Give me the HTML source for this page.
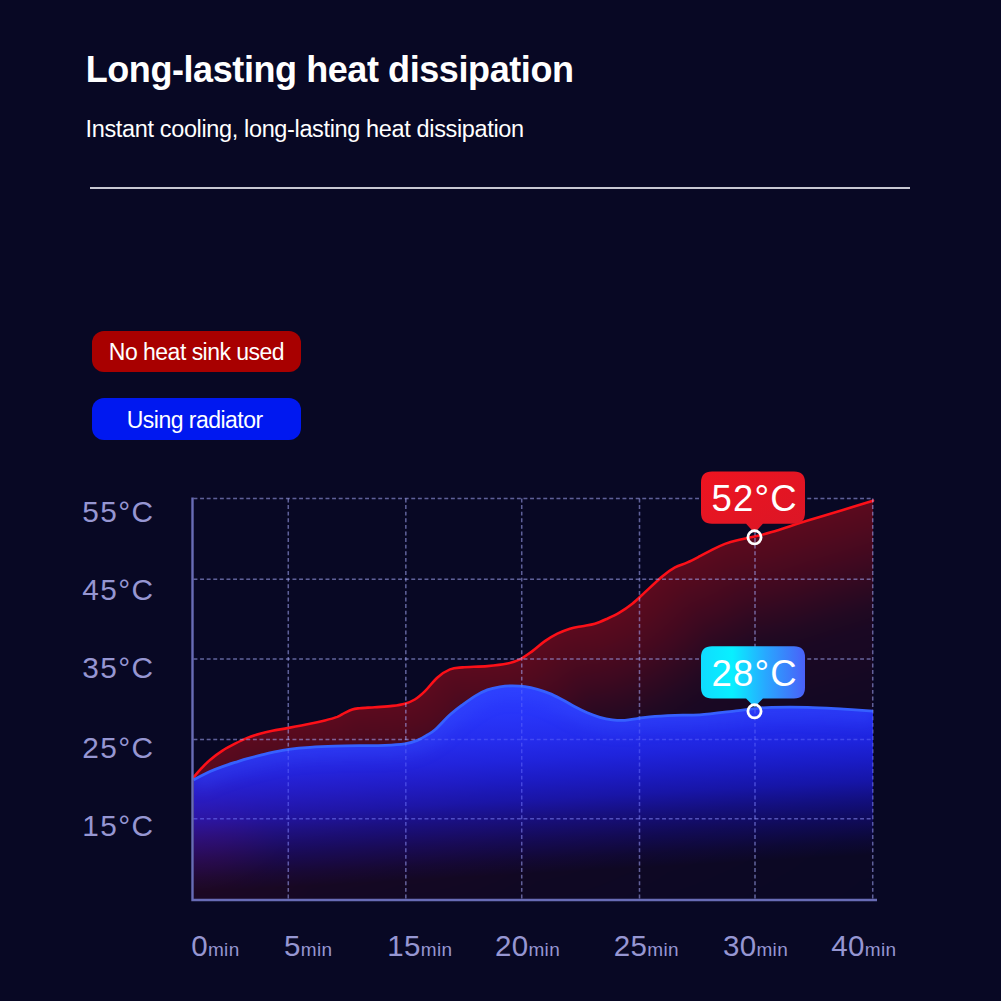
<!DOCTYPE html>
<html lang="en">
<head>
<meta charset="utf-8">
<title>Long-lasting heat dissipation</title>
<style>
html,body{margin:0;padding:0;}
body{width:1001px;height:1001px;overflow:hidden;background:#080824;font-family:"Liberation Sans",Arial,sans-serif;position:relative;}
.t{position:absolute;white-space:nowrap;line-height:1;color:#fff;}
#title{left:85.7px;top:52px;font-size:36px;font-weight:bold;letter-spacing:-0.42px;}
#sub{left:85.6px;top:117.9px;font-size:23.5px;letter-spacing:-0.36px;}
#rule{position:absolute;left:90px;top:187px;width:820px;height:2px;background:#c8c8d2;}
.pill{position:absolute;left:92.3px;width:208.4px;height:42px;border-radius:12px;color:#fff;font-size:23px;line-height:44px;text-align:center;letter-spacing:-0.52px;}
#p1{top:330.5px;height:41.8px;line-height:43px;background:#a80000;}
#p2{top:397.7px;height:42.1px;line-height:45px;text-indent:-3.6px;background:#0018f0;}
svg{position:absolute;left:0;top:0;}
</style>
</head>
<body>
<div class="t" id="title">Long-lasting heat dissipation</div>
<div class="t" id="sub">Instant cooling, long-lasting heat dissipation</div>
<div id="rule"></div>
<div class="pill" id="p1">No heat sink used</div>
<div class="pill" id="p2">Using radiator</div>
<svg id="chart" width="1001" height="1001" viewBox="0 0 1001 1001">
<defs>
<linearGradient id="gb" gradientUnits="userSpaceOnUse" x1="520.0" y1="686" x2="531.8" y2="899.7">
<stop offset="0.000" stop-color="rgb(42,58,255)" stop-opacity="1.000"/>
<stop offset="0.136" stop-color="rgb(40,54,253)" stop-opacity="0.980"/>
<stop offset="0.248" stop-color="rgb(36,47,250)" stop-opacity="0.940"/>
<stop offset="0.346" stop-color="rgb(32,40,248)" stop-opacity="0.870"/>
<stop offset="0.439" stop-color="rgb(29,34,247)" stop-opacity="0.760"/>
<stop offset="0.533" stop-color="rgb(27,29,246)" stop-opacity="0.625"/>
<stop offset="0.617" stop-color="rgb(26,25,246)" stop-opacity="0.440"/>
<stop offset="0.720" stop-color="rgb(25,19,246)" stop-opacity="0.240"/>
<stop offset="0.813" stop-color="rgb(24,14,246)" stop-opacity="0.080"/>
<stop offset="0.879" stop-color="rgb(24,10,246)" stop-opacity="0.000"/>
</linearGradient>
<filter id="fb" color-interpolation-filters="sRGB" filterUnits="userSpaceOnUse" x="100" y="400" width="900" height="600"><feGaussianBlur stdDeviation="3"/></filter>
<filter id="fb2" color-interpolation-filters="sRGB" filterUnits="userSpaceOnUse" x="100" y="600" width="900" height="400"><feGaussianBlur stdDeviation="7"/></filter>
<linearGradient id="gbadge" x1="0" y1="0" x2="1" y2="0">
<stop offset="0" stop-color="#10dcff"/>
<stop offset="0.3" stop-color="#08f0ff"/>
<stop offset="0.62" stop-color="#28a8ff"/>
<stop offset="1" stop-color="#4a60f8"/>
</linearGradient>
<linearGradient id="rbadge" x1="0" y1="0" x2="1" y2="1">
<stop offset="0" stop-color="#ee1420"/>
<stop offset="1" stop-color="#da1626"/>
</linearGradient>
</defs>
<clipPath id="cr"><path d="M193.5 777.4 C194.6 776.1 197.2 772.8 200.0 769.9 C202.8 767.0 206.2 763.1 210.0 759.9 C213.8 756.7 218.3 753.3 222.5 750.6 C226.7 747.9 230.8 745.8 235.0 743.7 C239.2 741.6 243.2 739.6 247.4 737.9 C251.6 736.2 255.7 734.9 259.9 733.7 C264.1 732.5 267.6 731.7 272.4 730.7 C277.2 729.7 282.4 729.1 288.6 727.9 C294.9 726.7 303.8 725.0 309.9 723.7 C315.9 722.5 320.3 721.5 324.9 720.4 C329.5 719.3 334.0 718.1 337.3 716.9 C340.6 715.6 342.3 714.1 344.8 712.9 C347.3 711.6 349.8 710.2 352.3 709.4 C354.8 708.6 356.1 708.6 359.8 708.2 C363.6 707.8 369.4 707.6 374.8 707.2 C380.2 706.8 387.3 706.5 392.3 705.9 C397.3 705.3 401.1 704.8 404.8 703.7 C408.6 702.6 411.4 701.6 414.8 699.5 C418.2 697.4 421.2 694.8 425.0 691.1 C428.8 687.4 433.3 681.0 437.5 677.4 C441.7 673.8 445.8 671.1 450.0 669.4 C454.2 667.7 456.3 667.9 462.5 667.4 C468.7 666.9 479.9 666.7 487.4 666.1 C494.9 665.5 502.0 664.7 507.4 663.6 C512.8 662.5 515.7 661.5 519.9 659.4 C524.1 657.3 528.2 654.1 532.4 651.1 C536.6 648.1 540.7 644.0 544.9 641.1 C549.1 638.2 553.2 635.8 557.4 633.7 C561.6 631.6 565.8 630.0 569.9 628.7 C574.0 627.5 578.1 627.0 582.3 626.2 C586.4 625.4 590.6 625.0 594.8 623.7 C599.0 622.5 603.1 620.6 607.3 618.7 C611.5 616.8 615.6 614.9 619.8 612.4 C624.0 609.9 628.1 607.0 632.3 603.7 C636.5 600.4 639.8 597.0 644.8 592.4 C649.8 587.8 657.5 580.4 662.5 576.2 C667.5 572.0 670.8 569.7 675.0 567.4 C679.2 565.1 683.3 564.3 687.5 562.4 C691.7 560.5 695.9 558.3 700.0 556.2 C704.1 554.1 708.2 551.7 712.4 549.6 C716.6 547.5 720.8 545.5 725.0 543.9 C729.2 542.3 732.5 541.4 737.4 540.2 C742.3 539.0 748.8 537.9 754.5 536.5 C760.2 535.1 762.8 534.8 771.7 532.1 C780.6 529.5 795.7 524.3 807.7 520.6 C819.7 516.9 832.8 513.1 843.7 509.8 C854.6 506.5 868.1 502.2 873.0 500.7 L873 900 L193.5 900 Z"/></clipPath>
<path id="rl" d="M193.5 777.4 C194.6 776.1 197.2 772.8 200.0 769.9 C202.8 767.0 206.2 763.1 210.0 759.9 C213.8 756.7 218.3 753.3 222.5 750.6 C226.7 747.9 230.8 745.8 235.0 743.7 C239.2 741.6 243.2 739.6 247.4 737.9 C251.6 736.2 255.7 734.9 259.9 733.7 C264.1 732.5 267.6 731.7 272.4 730.7 C277.2 729.7 282.4 729.1 288.6 727.9 C294.9 726.7 303.8 725.0 309.9 723.7 C315.9 722.5 320.3 721.5 324.9 720.4 C329.5 719.3 334.0 718.1 337.3 716.9 C340.6 715.6 342.3 714.1 344.8 712.9 C347.3 711.6 349.8 710.2 352.3 709.4 C354.8 708.6 356.1 708.6 359.8 708.2 C363.6 707.8 369.4 707.6 374.8 707.2 C380.2 706.8 387.3 706.5 392.3 705.9 C397.3 705.3 401.1 704.8 404.8 703.7 C408.6 702.6 411.4 701.6 414.8 699.5 C418.2 697.4 421.2 694.8 425.0 691.1 C428.8 687.4 433.3 681.0 437.5 677.4 C441.7 673.8 445.8 671.1 450.0 669.4 C454.2 667.7 456.3 667.9 462.5 667.4 C468.7 666.9 479.9 666.7 487.4 666.1 C494.9 665.5 502.0 664.7 507.4 663.6 C512.8 662.5 515.7 661.5 519.9 659.4 C524.1 657.3 528.2 654.1 532.4 651.1 C536.6 648.1 540.7 644.0 544.9 641.1 C549.1 638.2 553.2 635.8 557.4 633.7 C561.6 631.6 565.8 630.0 569.9 628.7 C574.0 627.5 578.1 627.0 582.3 626.2 C586.4 625.4 590.6 625.0 594.8 623.7 C599.0 622.5 603.1 620.6 607.3 618.7 C611.5 616.8 615.6 614.9 619.8 612.4 C624.0 609.9 628.1 607.0 632.3 603.7 C636.5 600.4 639.8 597.0 644.8 592.4 C649.8 587.8 657.5 580.4 662.5 576.2 C667.5 572.0 670.8 569.7 675.0 567.4 C679.2 565.1 683.3 564.3 687.5 562.4 C691.7 560.5 695.9 558.3 700.0 556.2 C704.1 554.1 708.2 551.7 712.4 549.6 C716.6 547.5 720.8 545.5 725.0 543.9 C729.2 542.3 732.5 541.4 737.4 540.2 C742.3 539.0 748.8 537.9 754.5 536.5 C760.2 535.1 762.8 534.8 771.7 532.1 C780.6 529.5 795.7 524.3 807.7 520.6 C819.7 516.9 832.8 513.1 843.7 509.8 C854.6 506.5 868.1 502.2 873.0 500.7" fill="none"/>
<g clip-path="url(#cr)"><g filter="url(#fb)" stroke-linecap="round" stroke-linejoin="round">
<rect x="150" y="450" width="780" height="500" fill="rgb(9,8,36)"/>
<use href="#rl" stroke-width="880" stroke="rgb(9,8,36)"/>
<use href="#rl" stroke-width="860" stroke="rgb(9,8,36)"/>
<use href="#rl" stroke-width="840" stroke="rgb(9,8,36)"/>
<use href="#rl" stroke-width="820" stroke="rgb(10,8,36)"/>
<use href="#rl" stroke-width="800" stroke="rgb(10,8,36)"/>
<use href="#rl" stroke-width="780" stroke="rgb(10,8,36)"/>
<use href="#rl" stroke-width="760" stroke="rgb(10,8,36)"/>
<use href="#rl" stroke-width="740" stroke="rgb(10,8,36)"/>
<use href="#rl" stroke-width="720" stroke="rgb(11,8,36)"/>
<use href="#rl" stroke-width="700" stroke="rgb(11,8,36)"/>
<use href="#rl" stroke-width="680" stroke="rgb(11,8,36)"/>
<use href="#rl" stroke-width="660" stroke="rgb(11,8,36)"/>
<use href="#rl" stroke-width="640" stroke="rgb(11,8,36)"/>
<use href="#rl" stroke-width="620" stroke="rgb(12,8,36)"/>
<use href="#rl" stroke-width="600" stroke="rgb(12,8,36)"/>
<use href="#rl" stroke-width="580" stroke="rgb(12,8,36)"/>
<use href="#rl" stroke-width="560" stroke="rgb(13,8,36)"/>
<use href="#rl" stroke-width="540" stroke="rgb(13,8,36)"/>
<use href="#rl" stroke-width="520" stroke="rgb(14,8,36)"/>
<use href="#rl" stroke-width="500" stroke="rgb(14,8,36)"/>
<use href="#rl" stroke-width="480" stroke="rgb(15,8,35)"/>
<use href="#rl" stroke-width="460" stroke="rgb(15,8,35)"/>
<use href="#rl" stroke-width="440" stroke="rgb(16,8,35)"/>
<use href="#rl" stroke-width="420" stroke="rgb(17,8,35)"/>
<use href="#rl" stroke-width="400" stroke="rgb(18,8,35)"/>
<use href="#rl" stroke-width="380" stroke="rgb(19,8,35)"/>
<use href="#rl" stroke-width="360" stroke="rgb(20,8,35)"/>
<use href="#rl" stroke-width="340" stroke="rgb(21,8,35)"/>
<use href="#rl" stroke-width="320" stroke="rgb(23,8,35)"/>
<use href="#rl" stroke-width="300" stroke="rgb(24,8,35)"/>
<use href="#rl" stroke-width="280" stroke="rgb(25,8,35)"/>
<use href="#rl" stroke-width="264" stroke="rgb(25,8,35)"/>
<use href="#rl" stroke-width="256" stroke="rgb(26,8,35)"/>
<use href="#rl" stroke-width="248" stroke="rgb(26,8,35)"/>
<use href="#rl" stroke-width="240" stroke="rgb(27,8,35)"/>
<use href="#rl" stroke-width="232" stroke="rgb(29,8,34)"/>
<use href="#rl" stroke-width="224" stroke="rgb(30,9,34)"/>
<use href="#rl" stroke-width="216" stroke="rgb(32,9,34)"/>
<use href="#rl" stroke-width="208" stroke="rgb(33,9,34)"/>
<use href="#rl" stroke-width="200" stroke="rgb(36,9,34)"/>
<use href="#rl" stroke-width="192" stroke="rgb(38,9,34)"/>
<use href="#rl" stroke-width="184" stroke="rgb(41,9,34)"/>
<use href="#rl" stroke-width="176" stroke="rgb(43,9,33)"/>
<use href="#rl" stroke-width="168" stroke="rgb(46,9,33)"/>
<use href="#rl" stroke-width="160" stroke="rgb(48,9,33)"/>
<use href="#rl" stroke-width="152" stroke="rgb(51,9,33)"/>
<use href="#rl" stroke-width="144" stroke="rgb(54,9,33)"/>
<use href="#rl" stroke-width="136" stroke="rgb(56,9,32)"/>
<use href="#rl" stroke-width="128" stroke="rgb(59,9,32)"/>
<use href="#rl" stroke-width="120" stroke="rgb(62,9,32)"/>
<use href="#rl" stroke-width="112" stroke="rgb(64,9,32)"/>
<use href="#rl" stroke-width="104" stroke="rgb(66,9,32)"/>
<use href="#rl" stroke-width="96" stroke="rgb(69,9,31)"/>
<use href="#rl" stroke-width="88" stroke="rgb(71,9,31)"/>
<use href="#rl" stroke-width="80" stroke="rgb(73,10,31)"/>
<use href="#rl" stroke-width="72" stroke="rgb(75,10,31)"/>
<use href="#rl" stroke-width="64" stroke="rgb(77,10,31)"/>
<use href="#rl" stroke-width="56" stroke="rgb(79,10,31)"/>
<use href="#rl" stroke-width="48" stroke="rgb(82,10,30)"/>
<use href="#rl" stroke-width="40" stroke="rgb(83,10,30)"/>
<use href="#rl" stroke-width="32" stroke="rgb(85,10,30)"/>
<use href="#rl" stroke-width="24" stroke="rgb(87,10,30)"/>
<use href="#rl" stroke-width="16" stroke="rgb(89,10,30)"/>
<use href="#rl" stroke-width="8" stroke="rgb(91,10,30)"/>
</g></g>
<path d="M193.5 777.4 C194.6 776.1 197.2 772.8 200.0 769.9 C202.8 767.0 206.2 763.1 210.0 759.9 C213.8 756.7 218.3 753.3 222.5 750.6 C226.7 747.9 230.8 745.8 235.0 743.7 C239.2 741.6 243.2 739.6 247.4 737.9 C251.6 736.2 255.7 734.9 259.9 733.7 C264.1 732.5 267.6 731.7 272.4 730.7 C277.2 729.7 282.4 729.1 288.6 727.9 C294.9 726.7 303.8 725.0 309.9 723.7 C315.9 722.5 320.3 721.5 324.9 720.4 C329.5 719.3 334.0 718.1 337.3 716.9 C340.6 715.6 342.3 714.1 344.8 712.9 C347.3 711.6 349.8 710.2 352.3 709.4 C354.8 708.6 356.1 708.6 359.8 708.2 C363.6 707.8 369.4 707.6 374.8 707.2 C380.2 706.8 387.3 706.5 392.3 705.9 C397.3 705.3 401.1 704.8 404.8 703.7 C408.6 702.6 411.4 701.6 414.8 699.5 C418.2 697.4 421.2 694.8 425.0 691.1 C428.8 687.4 433.3 681.0 437.5 677.4 C441.7 673.8 445.8 671.1 450.0 669.4 C454.2 667.7 456.3 667.9 462.5 667.4 C468.7 666.9 479.9 666.7 487.4 666.1 C494.9 665.5 502.0 664.7 507.4 663.6 C512.8 662.5 515.7 661.5 519.9 659.4 C524.1 657.3 528.2 654.1 532.4 651.1 C536.6 648.1 540.7 644.0 544.9 641.1 C549.1 638.2 553.2 635.8 557.4 633.7 C561.6 631.6 565.8 630.0 569.9 628.7 C574.0 627.5 578.1 627.0 582.3 626.2 C586.4 625.4 590.6 625.0 594.8 623.7 C599.0 622.5 603.1 620.6 607.3 618.7 C611.5 616.8 615.6 614.9 619.8 612.4 C624.0 609.9 628.1 607.0 632.3 603.7 C636.5 600.4 639.8 597.0 644.8 592.4 C649.8 587.8 657.5 580.4 662.5 576.2 C667.5 572.0 670.8 569.7 675.0 567.4 C679.2 565.1 683.3 564.3 687.5 562.4 C691.7 560.5 695.9 558.3 700.0 556.2 C704.1 554.1 708.2 551.7 712.4 549.6 C716.6 547.5 720.8 545.5 725.0 543.9 C729.2 542.3 732.5 541.4 737.4 540.2 C742.3 539.0 748.8 537.9 754.5 536.5 C760.2 535.1 762.8 534.8 771.7 532.1 C780.6 529.5 795.7 524.3 807.7 520.6 C819.7 516.9 832.8 513.1 843.7 509.8 C854.6 506.5 868.1 502.2 873.0 500.7" fill="none" stroke="#fc1018" stroke-width="2.6" stroke-linejoin="round" stroke-linecap="round"/>
<g stroke="rgb(170,175,255)" stroke-opacity="0.42" stroke-width="1.5" stroke-dasharray="3.9 2.7" fill="none">
<path d="M193.5 498.5 H873"/>
<path d="M193.5 579.2 H873"/>
<path d="M193.5 659 H873"/>
<path d="M193.5 739.4 H873"/>
<path d="M193.5 818.8 H873"/>
<path d="M288.3 498.5 V900"/>
<path d="M405.8 498.5 V900"/>
<path d="M521.7 498.5 V900"/>
<path d="M639.5 498.5 V900"/>
<path d="M755 498.5 V900"/>
<path d="M872.7 498.5 V900"/>
</g>
<path d="M193.5 779.9 C196.2 778.5 205.2 773.8 210.0 771.6 C214.8 769.4 218.3 768.1 222.5 766.6 C226.7 765.1 230.8 763.7 235.0 762.4 C239.2 761.1 243.2 759.8 247.4 758.6 C251.6 757.4 255.7 756.4 259.9 755.4 C264.1 754.4 267.6 753.4 272.4 752.4 C277.2 751.4 282.4 750.2 288.6 749.4 C294.9 748.6 302.2 747.9 309.9 747.4 C317.6 746.9 326.5 746.5 334.8 746.2 C343.1 745.9 351.5 745.8 359.8 745.7 C368.1 745.6 377.3 745.7 384.8 745.4 C392.3 745.1 399.4 744.7 404.8 743.9 C410.2 743.1 413.6 741.9 417.3 740.4 C421.1 738.9 424.4 736.7 427.3 734.9 C430.2 733.1 431.2 733.1 435.0 729.8 C438.8 726.4 445.4 719.0 450.0 714.8 C454.6 710.6 458.3 707.9 462.5 704.8 C466.7 701.7 470.9 698.6 475.0 696.1 C479.1 693.6 483.2 691.4 487.4 689.9 C491.5 688.4 495.7 687.6 499.9 686.9 C504.1 686.2 508.2 685.9 512.4 685.9 C516.6 685.9 520.7 686.0 524.9 686.6 C529.1 687.2 533.2 688.2 537.4 689.4 C541.6 690.6 545.7 691.9 549.9 693.6 C554.1 695.3 558.2 697.6 562.4 699.8 C566.6 702.0 570.8 704.6 574.9 706.8 C579.0 709.0 583.1 711.0 587.3 712.8 C591.4 714.5 595.6 716.1 599.8 717.3 C604.0 718.5 608.1 719.3 612.3 719.8 C616.5 720.3 620.6 720.5 624.8 720.3 C629.0 720.1 633.1 719.2 637.3 718.6 C641.5 718.0 643.5 717.3 649.8 716.8 C656.0 716.2 666.5 715.6 674.8 715.3 C683.1 715.0 689.6 715.5 699.8 714.8 C710.0 714.1 726.8 711.9 735.8 710.9 C744.8 709.9 747.8 709.3 753.8 708.7 C759.8 708.1 762.7 707.5 771.7 707.3 C780.7 707.1 795.7 707.0 807.7 707.3 C819.7 707.6 832.8 708.5 843.7 709.1 C854.6 709.8 868.1 710.9 873.0 711.2 L873 900 L193.5 900 Z" fill="url(#gb)"/>
<clipPath id="cb"><path d="M193.5 779.9 C196.2 778.5 205.2 773.8 210.0 771.6 C214.8 769.4 218.3 768.1 222.5 766.6 C226.7 765.1 230.8 763.7 235.0 762.4 C239.2 761.1 243.2 759.8 247.4 758.6 C251.6 757.4 255.7 756.4 259.9 755.4 C264.1 754.4 267.6 753.4 272.4 752.4 C277.2 751.4 282.4 750.2 288.6 749.4 C294.9 748.6 302.2 747.9 309.9 747.4 C317.6 746.9 326.5 746.5 334.8 746.2 C343.1 745.9 351.5 745.8 359.8 745.7 C368.1 745.6 377.3 745.7 384.8 745.4 C392.3 745.1 399.4 744.7 404.8 743.9 C410.2 743.1 413.6 741.9 417.3 740.4 C421.1 738.9 424.4 736.7 427.3 734.9 C430.2 733.1 431.2 733.1 435.0 729.8 C438.8 726.4 445.4 719.0 450.0 714.8 C454.6 710.6 458.3 707.9 462.5 704.8 C466.7 701.7 470.9 698.6 475.0 696.1 C479.1 693.6 483.2 691.4 487.4 689.9 C491.5 688.4 495.7 687.6 499.9 686.9 C504.1 686.2 508.2 685.9 512.4 685.9 C516.6 685.9 520.7 686.0 524.9 686.6 C529.1 687.2 533.2 688.2 537.4 689.4 C541.6 690.6 545.7 691.9 549.9 693.6 C554.1 695.3 558.2 697.6 562.4 699.8 C566.6 702.0 570.8 704.6 574.9 706.8 C579.0 709.0 583.1 711.0 587.3 712.8 C591.4 714.5 595.6 716.1 599.8 717.3 C604.0 718.5 608.1 719.3 612.3 719.8 C616.5 720.3 620.6 720.5 624.8 720.3 C629.0 720.1 633.1 719.2 637.3 718.6 C641.5 718.0 643.5 717.3 649.8 716.8 C656.0 716.2 666.5 715.6 674.8 715.3 C683.1 715.0 689.6 715.5 699.8 714.8 C710.0 714.1 726.8 711.9 735.8 710.9 C744.8 709.9 747.8 709.3 753.8 708.7 C759.8 708.1 762.7 707.5 771.7 707.3 C780.7 707.1 795.7 707.0 807.7 707.3 C819.7 707.6 832.8 708.5 843.7 709.1 C854.6 709.8 868.1 710.9 873.0 711.2 L873 900 L193.5 900 Z"/></clipPath>
<g clip-path="url(#cb)"><path d="M193.5 779.9 C196.2 778.5 205.2 773.8 210.0 771.6 C214.8 769.4 218.3 768.1 222.5 766.6 C226.7 765.1 230.8 763.7 235.0 762.4 C239.2 761.1 243.2 759.8 247.4 758.6 C251.6 757.4 255.7 756.4 259.9 755.4 C264.1 754.4 267.6 753.4 272.4 752.4 C277.2 751.4 282.4 750.2 288.6 749.4 C294.9 748.6 302.2 747.9 309.9 747.4 C317.6 746.9 326.5 746.5 334.8 746.2 C343.1 745.9 351.5 745.8 359.8 745.7 C368.1 745.6 377.3 745.7 384.8 745.4 C392.3 745.1 399.4 744.7 404.8 743.9 C410.2 743.1 413.6 741.9 417.3 740.4 C421.1 738.9 424.4 736.7 427.3 734.9 C430.2 733.1 431.2 733.1 435.0 729.8 C438.8 726.4 445.4 719.0 450.0 714.8 C454.6 710.6 458.3 707.9 462.5 704.8 C466.7 701.7 470.9 698.6 475.0 696.1 C479.1 693.6 483.2 691.4 487.4 689.9 C491.5 688.4 495.7 687.6 499.9 686.9 C504.1 686.2 508.2 685.9 512.4 685.9 C516.6 685.9 520.7 686.0 524.9 686.6 C529.1 687.2 533.2 688.2 537.4 689.4 C541.6 690.6 545.7 691.9 549.9 693.6 C554.1 695.3 558.2 697.6 562.4 699.8 C566.6 702.0 570.8 704.6 574.9 706.8 C579.0 709.0 583.1 711.0 587.3 712.8 C591.4 714.5 595.6 716.1 599.8 717.3 C604.0 718.5 608.1 719.3 612.3 719.8 C616.5 720.3 620.6 720.5 624.8 720.3 C629.0 720.1 633.1 719.2 637.3 718.6 C641.5 718.0 643.5 717.3 649.8 716.8 C656.0 716.2 666.5 715.6 674.8 715.3 C683.1 715.0 689.6 715.5 699.8 714.8 C710.0 714.1 726.8 711.9 735.8 710.9 C744.8 709.9 747.8 709.3 753.8 708.7 C759.8 708.1 762.7 707.5 771.7 707.3 C780.7 707.1 795.7 707.0 807.7 707.3 C819.7 707.6 832.8 708.5 843.7 709.1 C854.6 709.8 868.1 710.9 873.0 711.2" fill="none" stroke="rgb(64,100,255)" stroke-opacity="0.18" stroke-width="26" stroke-linejoin="round" filter="url(#fb2)"/></g>
<path d="M193.5 779.9 C196.2 778.5 205.2 773.8 210.0 771.6 C214.8 769.4 218.3 768.1 222.5 766.6 C226.7 765.1 230.8 763.7 235.0 762.4 C239.2 761.1 243.2 759.8 247.4 758.6 C251.6 757.4 255.7 756.4 259.9 755.4 C264.1 754.4 267.6 753.4 272.4 752.4 C277.2 751.4 282.4 750.2 288.6 749.4 C294.9 748.6 302.2 747.9 309.9 747.4 C317.6 746.9 326.5 746.5 334.8 746.2 C343.1 745.9 351.5 745.8 359.8 745.7 C368.1 745.6 377.3 745.7 384.8 745.4 C392.3 745.1 399.4 744.7 404.8 743.9 C410.2 743.1 413.6 741.9 417.3 740.4 C421.1 738.9 424.4 736.7 427.3 734.9 C430.2 733.1 431.2 733.1 435.0 729.8 C438.8 726.4 445.4 719.0 450.0 714.8 C454.6 710.6 458.3 707.9 462.5 704.8 C466.7 701.7 470.9 698.6 475.0 696.1 C479.1 693.6 483.2 691.4 487.4 689.9 C491.5 688.4 495.7 687.6 499.9 686.9 C504.1 686.2 508.2 685.9 512.4 685.9 C516.6 685.9 520.7 686.0 524.9 686.6 C529.1 687.2 533.2 688.2 537.4 689.4 C541.6 690.6 545.7 691.9 549.9 693.6 C554.1 695.3 558.2 697.6 562.4 699.8 C566.6 702.0 570.8 704.6 574.9 706.8 C579.0 709.0 583.1 711.0 587.3 712.8 C591.4 714.5 595.6 716.1 599.8 717.3 C604.0 718.5 608.1 719.3 612.3 719.8 C616.5 720.3 620.6 720.5 624.8 720.3 C629.0 720.1 633.1 719.2 637.3 718.6 C641.5 718.0 643.5 717.3 649.8 716.8 C656.0 716.2 666.5 715.6 674.8 715.3 C683.1 715.0 689.6 715.5 699.8 714.8 C710.0 714.1 726.8 711.9 735.8 710.9 C744.8 709.9 747.8 709.3 753.8 708.7 C759.8 708.1 762.7 707.5 771.7 707.3 C780.7 707.1 795.7 707.0 807.7 707.3 C819.7 707.6 832.8 708.5 843.7 709.1 C854.6 709.8 868.1 710.9 873.0 711.2" fill="none" stroke="#3660ff" stroke-width="2.8" stroke-linejoin="round"/>
<g stroke="rgb(170,175,255)" stroke-opacity="0.2" stroke-width="1.5" stroke-dasharray="3.9 2.7" fill="none">
<path d="M193.5 498.5 H873"/>
<path d="M193.5 579.2 H873"/>
<path d="M193.5 659 H873"/>
<path d="M193.5 739.4 H873"/>
<path d="M193.5 818.8 H873"/>
<path d="M288.3 498.5 V900"/>
<path d="M405.8 498.5 V900"/>
<path d="M521.7 498.5 V900"/>
<path d="M639.5 498.5 V900"/>
<path d="M755 498.5 V900"/>
<path d="M872.7 498.5 V900"/>
</g>
<path d="M192.5 497.5 V900 H877" fill="none" stroke="#686cb6" stroke-width="2.4" stroke-linejoin="miter"/>
<g fill="#9696d2" font-family="'Liberation Sans',Arial,sans-serif" font-size="29.8" letter-spacing="1.4">
<text x="82.3" y="522.3">55°C</text>
<text x="82.3" y="600.2">45°C</text>
<text x="82.3" y="678.3">35°C</text>
<text x="82.3" y="757.8">25°C</text>
<text x="82.3" y="836.3">15°C</text>
</g>
<g fill="#9696d2" font-family="'Liberation Sans',Arial,sans-serif" font-size="29.5">
<text x="191.2" y="956" letter-spacing="0.3">0<tspan font-size="19" letter-spacing="0.35">min</tspan></text>
<text x="284" y="956" letter-spacing="0.3">5<tspan font-size="19" letter-spacing="0.35">min</tspan></text>
<text x="387.3" y="956" letter-spacing="0.3">15<tspan font-size="19" letter-spacing="0.35">min</tspan></text>
<text x="495" y="956" letter-spacing="0.3">20<tspan font-size="19" letter-spacing="0.35">min</tspan></text>
<text x="613.8" y="956" letter-spacing="0.3">25<tspan font-size="19" letter-spacing="0.35">min</tspan></text>
<text x="723" y="956" letter-spacing="0.3">30<tspan font-size="19" letter-spacing="0.35">min</tspan></text>
<text x="831.3" y="956" letter-spacing="0.3">40<tspan font-size="19" letter-spacing="0.35">min</tspan></text>
</g>
<path d="M712 471.5 H794 Q805 471.5 805 482.5 V512.8 Q805 523.8 794 523.8 H762.9 L754.5 533 L746.1 523.8 H712 Q701 523.8 701 512.8 V482.5 Q701 471.5 712 471.5 Z" fill="url(#rbadge)"/>
<circle cx="754.5" cy="537.3" r="6.6" fill="none" stroke="#fff" stroke-width="2.8"/>
<path d="M712 646.3 H794 Q805 646.3 805 657.3 V687.5999999999999 Q805 698.5999999999999 794 698.5999999999999 H762.9 L754.5 707 L746.1 698.5999999999999 H712 Q701 698.5999999999999 701 687.5999999999999 V657.3 Q701 646.3 712 646.3 Z" fill="url(#gbadge)"/>
<circle cx="754.5" cy="711.3" r="6.6" fill="none" stroke="#fff" stroke-width="2.8"/>
<g fill="#fff" font-family="'Liberation Sans',Arial,sans-serif" font-size="36.5" letter-spacing="1.2" text-anchor="middle"><text x="754.6" y="511.4">52°C</text><text x="754.6" y="686.2">28°C</text></g>
</svg>
</body>
</html>
